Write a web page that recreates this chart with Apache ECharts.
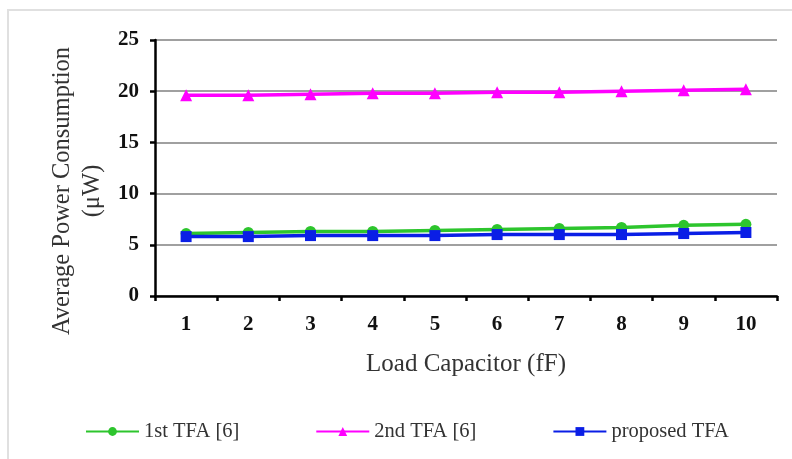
<!DOCTYPE html>
<html>
<head>
<meta charset="utf-8">
<script src="https://cdn.jsdelivr.net/npm/echarts@6/dist/echarts.min.js"></script>
<style>
  html, body { margin: 0; padding: 0; background: #fff; }
  #chart { width: 792px; height: 459px; }
</style>
</head>
<body>
<div id="chart"></div>
<script>
// 数据
const categories = ['1', '2', '3', '4', '5', '6', '7', '8', '9', '10'];
const tfa1st = [6.1, 6.2, 6.3, 6.3, 6.4, 6.5, 6.6, 6.7, 6.9, 7.0];
const tfa2nd = [19.6, 19.6, 19.7, 19.8, 19.8, 19.9, 19.9, 20.0, 20.1, 20.2];
const tfaProposed = [5.8, 5.8, 5.9, 5.9, 5.9, 6.0, 6.0, 6.0, 6.1, 6.2];

const font = '"Liberation Serif", "DejaVu Serif", serif';
const myChart = echarts.init(document.getElementById('chart'));

myChart.setOption({
  backgroundColor: '#fff',
  animation: false,
  textStyle: { fontFamily: font },
  // 外框
  graphic: [{
    type: 'rect',
    shape: { x: 8, y: 10, width: 800, height: 460 },
    style: { fill: 'none', stroke: '#e0e0e0', lineWidth: 2 },
  }],
  grid: { left: 155, right: 15, top: 40, bottom: 163, outerBoundsMode: 'none' },
  legend: {
    top: 421,
    left: 85,
    padding: 0,
    itemGap: 76,
    itemWidth: 53,
    itemHeight: 11,
    textStyle: { fontFamily: font, fontSize: 20.5, color: '#333' },
    data: ['1st TFA [6]', '2nd TFA [6]', 'proposed TFA'],
  },
  xAxis: {
    type: 'category',
    data: categories,
    name: 'Load Capacitor (fF)',
    nameLocation: 'middle',
    nameGap: 56,
    nameTextStyle: { fontFamily: font, fontSize: 25, color: '#333' },
    axisLine: { lineStyle: { color: '#000', width: 2.5 } },
    axisTick: { show: true, length: 5, lineStyle: { color: '#000', width: 2.5 } },
    axisLabel: { fontFamily: font, fontSize: 21, fontWeight: 'bold', color: '#111', margin: 18 },
  },
  yAxis: {
    type: 'value',
    min: 0,
    max: 25,
    interval: 5,
    name: 'Average Power Consumption\n(μW)',
    nameLocation: 'middle',
    nameGap: 47,
    nameTextStyle: { fontFamily: font, fontSize: 24.5, color: '#333', lineHeight: 30, padding: [0, 46, 0, 0] },
    axisLine: { show: true, lineStyle: { color: '#000', width: 2.5 } },
    axisTick: { show: true, inside: false, length: 5, lineStyle: { color: '#000', width: 2.5 } },
    axisLabel: { fontFamily: font, fontSize: 21, fontWeight: 'bold', color: '#111', margin: 16 },
    splitLine: { lineStyle: { color: '#808080', width: 1.5 } },
  },
  series: [
    {
      name: '1st TFA [6]',
      type: 'line',
      data: tfa1st,
      symbol: 'circle',
      symbolSize: 11,
      itemStyle: { color: '#2dc52d' },
      lineStyle: { color: '#2dc52d', width: 3.5 },
    },
    {
      name: '2nd TFA [6]',
      type: 'line',
      data: tfa2nd,
      symbol: 'triangle',
      symbolSize: 12,
      itemStyle: { color: '#ff00ff' },
      lineStyle: { color: '#ff00ff', width: 3.5 },
    },
    {
      name: 'proposed TFA',
      type: 'line',
      data: tfaProposed,
      symbol: 'rect',
      symbolSize: 11,
      itemStyle: { color: '#0a1ee6' },
      lineStyle: { color: '#0a1ee6', width: 3.5 },
    },
  ],
});
</script>
</body>
</html>
